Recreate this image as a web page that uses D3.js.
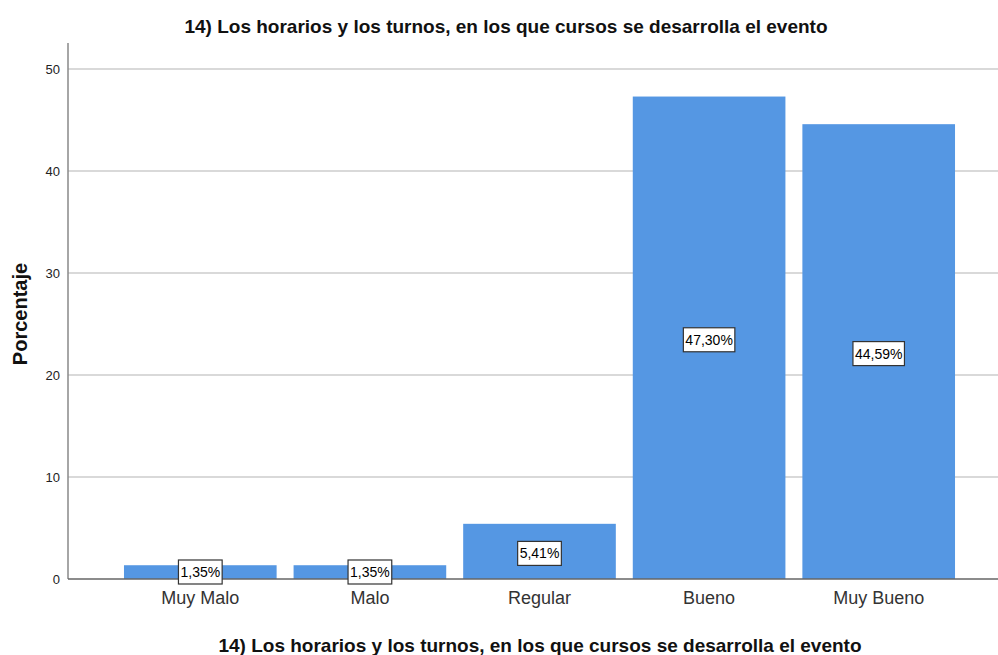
<!DOCTYPE html>
<html>
<head>
<meta charset="utf-8">
<script src="https://cdn.jsdelivr.net/npm/d3@7"></script>
<style>
  html, body { margin: 0; padding: 0; background: #fff; }
  svg { display: block; font-family: "Liberation Sans", Arial, sans-serif; }
</style>
</head>
<body>
<div id="chart"></div>
<script>
// --- data ---
var categories = ['Muy Malo', 'Malo', 'Regular', 'Bueno', 'Muy Bueno'];
var values = [1.35, 1.35, 5.41, 47.30, 44.59];
var yTicks = [0, 10, 20, 30, 40, 50];
var title = '14) Los horarios y los turnos, en los que cursos se desarrolla el evento';
var yTitle = 'Porcentaje';

var W = 998, H = 655;
var axisX = 68, axisTop = 43;

var svg = d3.select('#chart').append('svg')
    .attr('width', W).attr('height', H);

var x = d3.scaleBand()
    .domain(categories)
    .range([115.5, 963.5])
    .paddingInner(0.1)
    .paddingOuter(0.05);

var y = d3.scaleLinear()
    .domain([0, 50])
    .range([579, 69]);

// gridlines
svg.append('g')
    .selectAll('line')
    .data(yTicks.filter(function (t) { return t > 0; }))
    .join('line')
    .attr('x1', axisX).attr('x2', W)
    .attr('y1', function (d) { return y(d); })
    .attr('y2', function (d) { return y(d); })
    .attr('stroke', '#d9d9d9')
    .attr('stroke-width', 2);

// bars
svg.append('g')
    .selectAll('rect')
    .data(values)
    .join('rect')
    .attr('x', function (d, i) { return x(categories[i]); })
    .attr('y', function (d) { return y(d); })
    .attr('width', x.bandwidth())
    .attr('height', function (d) { return y(0) - y(d); })
    .attr('fill', '#5597e3');

// y axis
var yAxis = svg.append('g')
    .attr('transform', 'translate(' + axisX + ',0)')
    .call(d3.axisLeft(y).tickValues(yTicks).tickSize(0).tickPadding(8));
yAxis.select('.domain').remove();
yAxis.selectAll('text')
    .attr('font-size', 13)
    .attr('fill', '#222')
    .attr('font-family', '"Liberation Sans", Arial, sans-serif');

svg.append('line')
    .attr('x1', axisX).attr('x2', axisX)
    .attr('y1', axisTop).attr('y2', y(0))
    .attr('stroke', '#888').attr('stroke-width', 1.5);

// x axis
var xAxis = svg.append('g')
    .attr('transform', 'translate(0,' + y(0) + ')')
    .call(d3.axisBottom(x).tickSize(0).tickPadding(12));
xAxis.select('.domain').remove();
xAxis.selectAll('text')
    .attr('font-size', 18)
    .attr('fill', '#333')
    .attr('font-family', '"Liberation Sans", Arial, sans-serif');

svg.append('line')
    .attr('x1', axisX).attr('x2', W)
    .attr('y1', y(0)).attr('y2', y(0))
    .attr('stroke', '#666').attr('stroke-width', 1.5);

// data labels, centred in the bar (low bars: pinned near the baseline)
var fmt = function (v) { return v.toFixed(2).replace('.', ',') + '%'; };
var labels = svg.append('g')
    .selectAll('g')
    .data(values)
    .join('g')
    .attr('transform', function (d, i) {
        var cx = x(categories[i]) + x.bandwidth() / 2;
        var cy = Math.min((y(d) + y(0)) / 2 + 2, y(0) - 7);
        return 'translate(' + cx + ',' + cy + ')';
    });
labels.append('text')
    .attr('text-anchor', 'middle')
    .attr('dy', '0.36em')
    .attr('font-size', 14)
    .attr('fill', '#000')
    .text(fmt)
    .each(function () {
        var w = this.getComputedTextLength() + 4;
        d3.select(this.parentNode).insert('rect', 'text')
            .attr('x', -w / 2).attr('y', -12)
            .attr('width', w).attr('height', 24)
            .attr('fill', '#fff')
            .attr('stroke', '#333').attr('stroke-width', 1.2);
    });

// titles
svg.append('text')
    .attr('x', 506).attr('y', 33)
    .attr('text-anchor', 'middle')
    .attr('font-size', 19).attr('font-weight', 'bold')
    .attr('fill', '#111')
    .text(title);

svg.append('text')
    .attr('x', 540).attr('y', 652)
    .attr('text-anchor', 'middle')
    .attr('font-size', 19).attr('font-weight', 'bold')
    .attr('fill', '#111')
    .text(title);

svg.append('text')
    .attr('transform', 'translate(27,314) rotate(-90)')
    .attr('text-anchor', 'middle')
    .attr('font-size', 20).attr('font-weight', 'bold')
    .attr('fill', '#111')
    .text(yTitle);
</script>
</body>
</html>
